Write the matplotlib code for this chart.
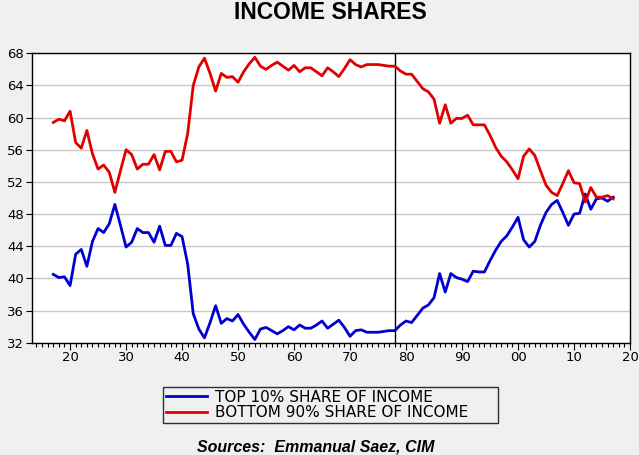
import matplotlib
matplotlib.use("Agg")
import matplotlib.pyplot as plt
from matplotlib.ticker import MultipleLocator, FixedLocator

years = list(range(1917, 2018))

top10 = [
    40.5, 40.1, 40.2, 39.1, 43.0, 43.6, 41.5, 44.6, 46.2, 45.7,   # 1917-1926
    46.8, 49.2, 46.6, 43.9, 44.5, 46.2, 45.7, 45.7, 44.5, 46.5,   # 1927-1936
    44.1, 44.1, 45.6, 45.2, 41.8, 35.6, 33.7, 32.6, 34.5, 36.6,   # 1937-1946
    34.4, 35.0, 34.7, 35.5, 34.3, 33.3, 32.4, 33.7, 33.9, 33.5,   # 1947-1956
    33.1, 33.5, 34.0, 33.6, 34.2, 33.8, 33.8, 34.2, 34.7, 33.8,   # 1957-1966
    34.3, 34.8, 33.9, 32.8, 33.5, 33.6, 33.3, 33.3, 33.3, 33.4,   # 1967-1976
    33.5, 33.5, 34.2, 34.7, 34.5, 35.4, 36.3, 36.7, 37.6, 40.6,   # 1977-1986
    38.3, 40.6, 40.1, 39.9, 39.6, 40.9, 40.8, 40.8, 42.2, 43.5,   # 1987-1996
    44.6, 45.3, 46.4, 47.6, 44.8, 43.9, 44.6, 46.6, 48.2, 49.2,   # 1997-2006
    49.7, 48.2, 46.6, 48.0, 48.1, 50.5, 48.6, 49.9, 50.0, 49.6,   # 2007-2016
    50.1,                                                         # 2017
]

bottom90 = [
    59.4, 59.8, 59.6, 60.8, 56.9, 56.2, 58.4, 55.5, 53.6, 54.1,   # 1917-1926
    53.2, 50.7, 53.4, 56.0, 55.4, 53.6, 54.2, 54.2, 55.4, 53.5,   # 1927-1936
    55.8, 55.8, 54.5, 54.7, 58.0, 64.0, 66.3, 67.4, 65.5, 63.3,   # 1937-1946
    65.5, 65.0, 65.1, 64.4, 65.7, 66.7, 67.5, 66.4, 66.0, 66.5,   # 1947-1956
    66.9, 66.4, 65.9, 66.5, 65.7, 66.2, 66.2, 65.7, 65.2, 66.2,   # 1957-1966
    65.7, 65.1, 66.1, 67.2, 66.6, 66.3, 66.6, 66.6, 66.6, 66.5,   # 1967-1976
    66.4, 66.4, 65.8, 65.4, 65.4, 64.5, 63.6, 63.2, 62.3, 59.3,   # 1977-1986
    61.6, 59.3, 59.9, 59.9, 60.3, 59.1, 59.1, 59.1, 57.8, 56.3,   # 1987-1996
    55.2, 54.5, 53.5, 52.4, 55.2, 56.1, 55.3, 53.4, 51.6, 50.7,   # 1997-2006
    50.3, 51.8, 53.4, 51.9, 51.8, 49.5, 51.3, 50.1, 50.1, 50.3,   # 2007-2016
    49.9,                                                         # 2017
]

y_ticks = [32, 36, 40, 44, 48, 52, 56, 60, 64, 68]
x_major = [1920, 1930, 1940, 1950, 1960, 1970, 1980, 1990, 2000, 2010, 2020]
x_labels = ["20", "30", "40", "50", "60", "70", "80", "90", "00", "10", "20"]
marker_year = 1978

title = "INCOME SHARES"
series_names = ["TOP 10% SHARE OF INCOME", "BOTTOM 90% SHARE OF INCOME"]
source = "Sources:  Emmanual Saez, CIM"

W, H = 639, 455
fig = plt.figure(figsize=(W / 100, H / 100), dpi=100, facecolor="#F0F0F0")
ax = fig.add_axes([32 / W, 1 - 342.7 / H, (630 - 32) / W, (342.7 - 53.3) / H])
ax.set_facecolor("white")

l1, = ax.plot(years, top10, color="#0000D0", lw=2.0, solid_joinstyle="round", zorder=3)
l2, = ax.plot(years, bottom90, color="#E00000", lw=2.0, solid_joinstyle="round", zorder=3)
ax.axvline(marker_year, color="black", lw=1.0, zorder=2)

ax.set_xlim(1913.2, 2020)
ax.set_ylim(32, 68)
ax.yaxis.set_major_locator(FixedLocator(y_ticks))
ax.set_yticklabels([str(v) for v in y_ticks])
ax.xaxis.set_major_locator(FixedLocator(x_major))
ax.set_xticklabels(x_labels)
ax.xaxis.set_minor_locator(MultipleLocator(1))
ax.grid(axis="y", color="#C8C8C8", lw=1.0, zorder=1)
ax.tick_params(axis="x", which="major", direction="out", length=5, width=0.8, labelsize=9.5, pad=1)
ax.tick_params(axis="x", which="minor", direction="out", length=3, width=0.8)
ax.tick_params(axis="y", which="major", direction="out", length=4, width=0.8, labelsize=9.5, pad=2)
for s in ax.spines.values():
    s.set_linewidth(1.0)
    s.set_color("black")

fig.text(330 / W, 1 - 12.5 / H, title, ha="center", va="center", fontsize=16.5,
         fontweight="bold", family="Liberation Sans")

leg = fig.legend([l1, l2], series_names,
                 bbox_to_anchor=(163 / W, 1 - 425 / H, (498 - 163) / W, 40 / H),
                 loc="center", mode="expand", ncol=1, frameon=True, fancybox=False,
                 fontsize=11, handlelength=2.7, handletextpad=0.5, labelspacing=0.05,
                 borderpad=0.2, borderaxespad=0)
leg.get_frame().set_edgecolor("black")
leg.get_frame().set_linewidth(1.0)
leg.get_frame().set_facecolor("#F0F0F0")
for line in leg.get_lines():
    line.set_linewidth(2.0)

fig.text(316 / W, 1 - 447 / H, source, ha="center", va="center", fontsize=11.5,
         fontweight="bold", fontstyle="italic", family="Liberation Sans")

fig.savefig("out.png", dpi=100, facecolor=fig.get_facecolor())
